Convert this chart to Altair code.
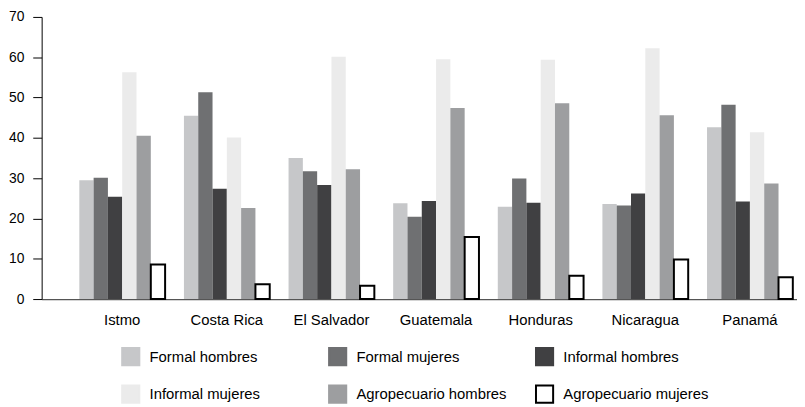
import altair as alt
import pandas as pd

paises = ["Istmo", "Costa Rica", "El Salvador", "Guatemala", "Honduras", "Nicaragua", "Panamá"]
series = ["Formal hombres", "Formal mujeres", "Informal hombres",
          "Informal mujeres", "Agropecuario hombres", "Agropecuario mujeres"]

formal_hombres = [29.5, 45.5, 35.0, 23.8, 22.9, 23.6, 42.6]
formal_mujeres = [30.1, 51.3, 31.7, 20.4, 29.9, 23.2, 48.2]
informal_hombres = [25.4, 27.4, 28.3, 24.3, 23.9, 26.2, 24.2]
informal_mujeres = [56.3, 40.1, 60.1, 59.5, 59.4, 62.2, 41.4]
agro_hombres = [40.5, 22.6, 32.2, 47.4, 48.6, 45.6, 28.7]
agro_mujeres = [8.6, 3.7, 3.3, 15.4, 5.8, 9.8, 5.4]

colores_relleno = ["#c6c7c9", "#6f7072", "#404042", "#ebebeb", "#9d9ea0", "#ffffff"]
colores_borde = ["#c6c7c9", "#6f7072", "#404042", "#ebebeb", "#9d9ea0", "#000000"]

valores = [formal_hombres, formal_mujeres, informal_hombres,
           informal_mujeres, agro_hombres, agro_mujeres]
rows = []
for s, vals in zip(series, valores):
    for p, v in zip(paises, vals):
        rows.append({"pais": p, "serie": s, "valor": v})
df = pd.DataFrame(rows)

FONT = "Liberation Sans"

leyenda = alt.Legend(
    title=None, orient="none", legendX=80, legendY=333, columns=3,
    direction="horizontal", symbolType="square", symbolSize=300,
    symbolStrokeWidth=2, labelFontSize=15, labelFont=FONT, labelColor="black",
    labelOffset=9, columnPadding=25, rowPadding=12, gridAlign="all", padding=0,
    labelLimit=300,
)

chart = alt.Chart(df).mark_bar().encode(
    x=alt.X("pais:N", sort=paises,
            scale=alt.Scale(paddingInner=0.18, paddingOuter=0.2, align=0.9),
            axis=alt.Axis(title=None, labelAngle=0, ticks=False, domainColor="#555555",
                          domainWidth=1.2, labelFontSize=15, labelFont=FONT,
                          labelColor="black", labelPadding=14)),
    xOffset=alt.XOffset("serie:N", sort=series,
                        scale=alt.Scale(domain=series, paddingInner=0, paddingOuter=0)),
    y=alt.Y("valor:Q", scale=alt.Scale(domain=[0, 70], nice=False),
            axis=alt.Axis(title=None, values=list(range(0, 71, 10)), grid=False,
                          tickSize=9, tickColor="black", domainColor="black",
                          labelFontSize=14, labelFont=FONT, labelColor="black",
                          labelPadding=9)),
    fill=alt.Fill("serie:N", sort=series,
                  scale=alt.Scale(domain=series, range=colores_relleno), legend=leyenda),
    stroke=alt.Stroke("serie:N", sort=series,
                      scale=alt.Scale(domain=series, range=colores_borde), legend=leyenda),
    strokeWidth=alt.condition("datum.serie == 'Agropecuario mujeres'", alt.value(2), alt.value(0)),
).properties(
    width=763, height=285,
    autosize=alt.AutoSizeParams(type="none"),
    padding={"left": 34, "top": 7, "right": 0, "bottom": 106},
).configure_view(strokeWidth=0)

chart.save("out.html", embed_options={"renderer": "svg", "actions": False})
